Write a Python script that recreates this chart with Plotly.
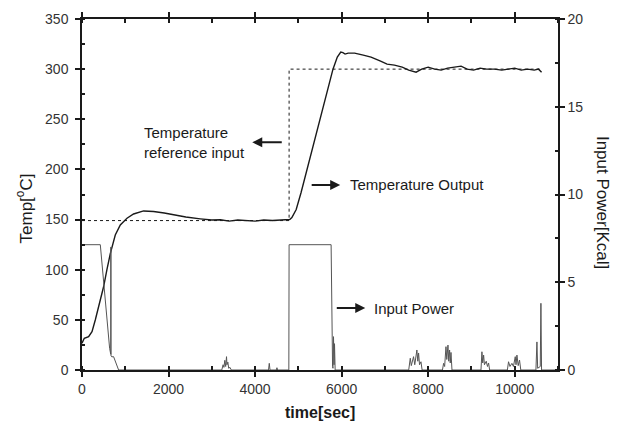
import plotly.graph_objects as go

# ---------------- data ----------------
temp_t = [0, 53, 153, 231, 307, 384, 499, 576, 654, 769, 885, 1040, 1192, 1423, 1654,
          1900, 2116, 2400, 2733, 3000, 3200, 3400, 3600, 3800, 4000, 4200, 4400, 4600,
          4800, 4850, 4950, 5063, 5200, 5400, 5600, 5800, 5900, 5980, 6030, 6080, 6150,
          6300, 6500, 6680, 6900, 7050, 7220, 7400, 7550, 7720, 7850, 8000, 8150, 8300,
          8450, 8600, 8760, 8900, 9050, 9200, 9350, 9530, 9700, 9850, 10000, 10150, 10300,
          10450, 10550, 10620]
temp_v = [26.7, 31.6, 33.2, 38.2, 49.9, 63.1, 83, 100, 116, 134.6, 144.6, 151.3, 155.6,
          158.6, 158, 156.5, 154.7, 152.5, 150.7, 149.5, 149.8, 148.5, 149.5, 149, 148.5,
          149.5, 149, 149.5, 150, 152, 160, 177, 200, 234, 267, 300, 312, 317, 316.5, 315,
          316, 316, 314, 312, 308, 305, 304, 302, 299, 297, 300, 302, 300, 299, 301, 302,
          303, 300, 299, 301, 300, 300, 299, 300, 301, 299, 300, 299, 300, 297]

ref_t = [0, 4786, 4786, 10620]
ref_v = [149, 149, 300, 300]

power_t = [0, 423, 638, 664, 665, 670, 671, 690, 730, 790, 846,
           3230, 3260, 3280, 3300, 3320, 3340, 3350, 3370, 3390, 3420, 3450,
           4310, 4328, 4345, 4490, 4505, 4520,
           4780, 4786, 5757, 5790, 5800, 5812, 5825, 5835, 5850,
           7550, 7586, 7610, 7662, 7690, 7739, 7760, 7778, 7800, 7833, 7860,
           8330, 8356, 8380, 8411, 8430, 8457, 8475, 8495, 8510, 8527, 8550,
           9220, 9242, 9260, 9281, 9300, 9342, 9370, 9396, 9420,
           9830, 9857, 9890, 9935, 9970, 10012, 10030, 10051, 10080, 10111, 10140,
           10490, 10513, 10530, 10590, 10605, 10620, 11000]
power_v = [7.14, 7.14, 1.24, 0.9, 7.0, 7.0, 0.8, 0.75, 0.76, 0.3, 0,
           0, 0.3, 0.15, 0.55, 0.2, 0.76, 0.3, 0.45, 0.1, 0.15, 0,
           0, 0.38, 0, 0, 0.13, 0,
           0, 7.14, 7.14, 0.2, 0.1, 1.9, 0.3, 1.5, 0,
           0, 0.67, 0.25, 0.76, 0.3, 1.14, 0.5, 0.97, 0.3, 0.47, 0,
           0, 0.38, 0.2, 1.33, 0.6, 1.42, 0.5, 1.14, 0.4, 1.0, 0,
           0, 1.04, 0.4, 0.85, 0.3, 0.5, 0.2, 0.4, 0,
           0, 0.47, 0.2, 0.38, 0.2, 0.76, 0.3, 0.85, 0.25, 0.57, 0,
           0, 1.6, 0.1, 0.2, 3.8, 0, 0]

x_ticks = [0, 2000, 4000, 6000, 8000, 10000]
x_tick_text = ["0", "2000", "4000", "6000", "8000", "10000"]

assert len(temp_t) == len(temp_v)
assert len(power_t) == len(power_v)

FONT = "Liberation Sans, Arial, sans-serif"
INK = "#1a1a1a"

fig = go.Figure()
fig.add_trace(go.Scatter(x=power_t, y=power_v, yaxis="y2", mode="lines",
                         line=dict(color="#555555", width=1), showlegend=False))
fig.add_trace(go.Scatter(x=ref_t, y=ref_v, mode="lines",
                         line=dict(color=INK, width=1, dash="3px,3px"), showlegend=False))
fig.add_trace(go.Scatter(x=temp_t, y=temp_v, mode="lines",
                         line=dict(color=INK, width=1.4), showlegend=False))

axis_common = dict(showgrid=False, zeroline=False, showline=True, linecolor=INK,
                   linewidth=1.5, ticks="outside", ticklen=5, tickwidth=1.5,
                   tickcolor=INK, automargin=False,
                   tickfont=dict(family=FONT, size=14, color="#333"))

fig.update_layout(
    width=624, height=427,
    margin=dict(l=82, r=66, t=19, b=57),
    paper_bgcolor="white", plot_bgcolor="white",
    xaxis=dict(range=[0, 11000], tickvals=x_ticks, ticktext=x_tick_text,
               mirror="ticks",
               minor=dict(dtick=1000, tick0=0, ticks="inside", ticklen=4, tickcolor=INK),
               **axis_common),
    yaxis=dict(range=[0, 350], dtick=50, tick0=0,
               minor=dict(dtick=25, tick0=0, ticks="inside", ticklen=3, tickcolor=INK),
               ticklabelstandoff=4,
               **axis_common),
    yaxis2=dict(range=[0, 20], dtick=5, tick0=0, overlaying="y", side="right",
                anchor="x",
                minor=dict(dtick=2.5, tick0=0, ticks="inside", ticklen=3, tickcolor=INK),
                **axis_common),
)

# axis titles
fig.add_annotation(text="Temp[<sup>o</sup>C]", xref="paper", yref="paper",
                   x=-0.122, y=0.46, xanchor="center", yanchor="middle",
                   textangle=-90, showarrow=False,
                   font=dict(family=FONT, size=17, color=INK))
fig.add_annotation(text="Input Power[Kcal]", xref="paper", yref="paper",
                   x=1.0924, y=0.476, xanchor="center", yanchor="middle",
                   textangle=90, showarrow=False,
                   font=dict(family=FONT, size=17, color=INK))
fig.add_annotation(text="<b>time[sec]</b>", xref="paper", yref="paper",
                   x=0.5, y=-0.12, xanchor="center", yanchor="middle",
                   showarrow=False,
                   font=dict(family=FONT, size=16, color=INK))

# labels with arrows
fig.add_annotation(text="Temperature<br>reference input", x=1395, y=227,
                   xanchor="left", yanchor="middle", align="left", showarrow=False,
                   font=dict(family=FONT, size=15, color=INK))
fig.add_annotation(text="", x=3935, y=227, ax=4651, ay=227, axref="x", ayref="y",
                   showarrow=True, arrowhead=2, arrowsize=1, arrowwidth=2,
                   arrowcolor=INK)

fig.add_annotation(text="Temperature Output", x=6152, y=184.5,
                   xanchor="left", yanchor="middle", showarrow=False,
                   font=dict(family=FONT, size=15, color=INK))
fig.add_annotation(text="", x=5966, y=184.5, ax=5273, ay=184.5, axref="x", ayref="y",
                   showarrow=True, arrowhead=2, arrowsize=1, arrowwidth=2,
                   arrowcolor=INK)

fig.add_annotation(text="Input Power", x=6707, y=61.8,
                   xanchor="left", yanchor="middle", showarrow=False,
                   font=dict(family=FONT, size=15, color=INK))
fig.add_annotation(text="", x=6546, y=61.8, ax=5853, ay=61.8, axref="x", ayref="y",
                   showarrow=True, arrowhead=2, arrowsize=1, arrowwidth=2,
                   arrowcolor=INK)

fig.write_html("out.html",
               config={"displayModeBar": False},
               post_script="document.body.style.margin='0';document.body.style.overflow='hidden';")
